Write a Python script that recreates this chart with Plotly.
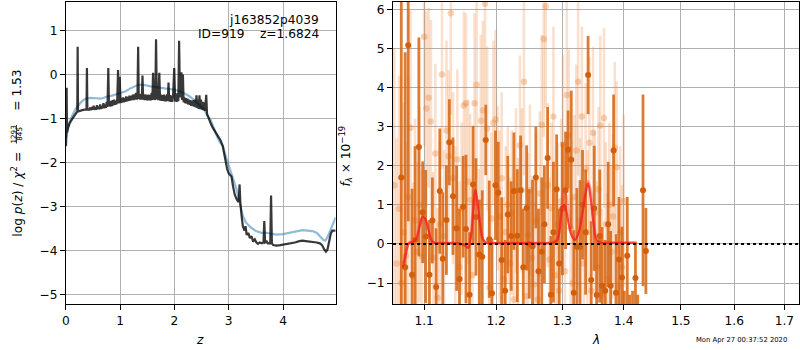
import plotly.graph_objects as go
import numpy as np

# ---- redshift fit: log p(z) ----
z_fit = [0.000, 0.006, 0.012, 0.018, 0.040, 0.070, 0.110, 0.150, 0.190, 0.208, 0.215, 0.222, 0.260, 0.300,
         0.340, 0.378, 0.386, 0.394, 0.430, 0.450, 0.462, 0.480, 0.495, 0.510, 0.522, 0.540, 0.555, 0.570,
         0.585, 0.600, 0.615, 0.630, 0.645, 0.660, 0.675, 0.690, 0.705, 0.720, 0.735, 0.750, 0.765, 0.780,
         0.792, 0.805, 0.818, 0.832, 0.846, 0.860, 0.874, 0.888, 0.902, 0.916, 0.930, 0.945, 0.960, 0.972,
         0.990, 1.005, 1.020, 1.035, 1.050, 1.065, 1.080, 1.095, 1.110, 1.125, 1.140, 1.155, 1.170, 1.185,
         1.200, 1.215, 1.230, 1.245, 1.260, 1.275, 1.290, 1.305, 1.318, 1.330, 1.342, 1.356, 1.370, 1.385,
         1.398, 1.410, 1.422, 1.436, 1.450, 1.464, 1.478, 1.492, 1.506, 1.520, 1.534, 1.548, 1.562, 1.578,
         1.592, 1.605, 1.618, 1.632, 1.646, 1.660, 1.674, 1.688, 1.702, 1.720, 1.734, 1.750, 1.764, 1.778,
         1.792, 1.806, 1.820, 1.834, 1.848, 1.862, 1.876, 1.890, 1.904, 1.918, 1.932, 1.946, 1.960, 1.975,
         1.995, 2.012, 2.026, 2.040, 2.055, 2.070, 2.085, 2.100, 2.115, 2.128, 2.140, 2.155, 2.168, 2.182,
         2.196, 2.210, 2.224, 2.238, 2.252, 2.266, 2.280, 2.294, 2.308, 2.322, 2.336, 2.350, 2.364, 2.378,
         2.392, 2.405, 2.418, 2.432, 2.446, 2.460, 2.474, 2.488, 2.502, 2.516, 2.530, 2.545, 2.560, 2.585,
         2.600, 2.640, 2.680, 2.710, 2.750, 2.800, 2.850, 2.890, 2.930, 2.970, 3.000, 3.050, 3.080, 3.110,
         3.150, 3.180, 3.200, 3.215, 3.240, 3.260, 3.290, 3.310, 3.330, 3.360, 3.390, 3.420, 3.450, 3.480,
         3.510, 3.540, 3.570, 3.610, 3.640, 3.655, 3.670, 3.700, 3.720, 3.765, 3.780, 3.795, 3.820, 3.880,
         3.950, 4.000, 4.080, 4.150, 4.220, 4.300, 4.360, 4.420, 4.500, 4.560, 4.620, 4.680, 4.720, 4.760,
         4.790, 4.820, 4.850, 4.880, 4.910, 4.940, 4.970]
logp_fit = [-1.63, -1.40, -0.30, -1.32, -1.20, -1.10, -1.02, -0.93, -0.87, -0.85, 0.63, -0.84, -0.82, -0.81,
            -0.80, -0.80, 0.15, -0.80, -0.80, -0.75, -0.81, -0.74, -0.80, -0.71, -0.80, -0.75, -0.80, -0.70,
            -0.79, -0.73, -0.79, -0.68, -0.78, -0.72, -0.77, -0.65, -0.77, -0.68, -0.76, -0.62, -0.74, 0.15,
            -0.72, -0.62, -0.73, -0.60, -0.72, -0.58, -0.70, -0.57, -0.69, -0.60, -0.68, -0.55, 0.10, -0.66,
            -0.05, -0.65, -0.54, -0.64, -0.52, -0.63, -0.53, -0.62, -0.50, -0.61, -0.51, -0.60, -0.48, -0.59,
            -0.49, -0.58, -0.46, -0.58, -0.45, -0.57, -0.42, -0.57, -0.44, 0.63, -0.56, -0.45, -0.57, -0.44,
            -0.57, -0.02, -0.57, -0.46, -0.58, -0.45, -0.58, -0.47, -0.59, -0.46, -0.58, -0.47, -0.59, -0.42,
            -0.58, 0.04, -0.57, -0.45, -0.58, 0.80, -0.56, -0.42, -0.58, 0.04, -0.59, -0.46, -0.60, -0.47,
            -0.60, -0.46, -0.61, -0.48, -0.61, -0.45, -0.60, -0.18, -0.61, -0.47, -0.62, -0.48, -0.62, -0.45,
            0.15, -0.61, -0.45, -0.62, -0.42, -0.61, 0.77, -0.52, -0.38, 0.05, -0.58, 0.00, -0.63, -0.52,
            -0.65, -0.54, -0.66, -0.55, -0.68, -0.57, -0.69, -0.58, -0.71, -0.60, -0.72, -0.58, -0.73, -0.57,
            -0.75, -0.47, -0.76, -0.57, -0.78, -0.47, -0.79, -0.57, -0.80, -0.62, -0.81, -0.63, -0.83, -0.46,
            -0.90, -1.05, -1.15, -1.22, -1.30, -1.38, -1.50, -1.63, -1.90, -2.15, -2.25, -2.32, -2.55, -2.73,
            -2.85, -2.90, -2.50, -2.95, -3.25, -3.45, -3.55, -3.45, -3.65, -3.60, -3.72, -3.68, -3.80, -3.75,
            -3.82, -3.85, -3.82, -3.84, -3.82, -3.33, -3.82, -3.80, -3.84, -3.84, -2.75, -3.84, -3.88, -3.89,
            -3.88, -3.87, -3.85, -3.83, -3.82, -3.79, -3.78, -3.79, -3.80, -3.80, -3.82, -3.84, -3.88, -3.98,
            -4.03, -3.98, -3.80, -3.62, -3.55, -3.55, -3.55]

z_prior = [0.00, 0.02, 0.06, 0.11, 0.17, 0.23, 0.30, 0.36, 0.45, 0.55, 0.64, 0.70, 0.76, 0.85, 0.94, 1.02,
           1.10, 1.18, 1.26, 1.32, 1.38, 1.46, 1.56, 1.65, 1.74, 1.85, 1.99, 2.10, 2.20, 2.28, 2.38, 2.47,
           2.55, 2.60, 2.66, 2.72, 2.78, 2.84, 2.89, 2.95, 3.02, 3.08, 3.14, 3.20, 3.26, 3.32, 3.40, 3.50,
           3.60, 3.69, 3.78, 3.87, 4.00, 4.12, 4.25, 4.36, 4.45, 4.54, 4.62, 4.68, 4.74, 4.78, 4.82, 4.86,
           4.90, 4.94, 4.97]
logp_prior = [-1.45, -1.32, -1.10, -0.95, -0.80, -0.70, -0.60, -0.55, -0.53, -0.54, -0.55, -0.53, -0.50,
              -0.48, -0.45, -0.42, -0.38, -0.32, -0.27, -0.24, -0.23, -0.24, -0.27, -0.29, -0.30, -0.32,
              -0.34, -0.38, -0.44, -0.50, -0.60, -0.70, -0.80, -0.92, -1.02, -1.20, -1.40, -1.55, -1.62,
              -1.88, -2.16, -2.40, -2.60, -2.90, -3.22, -3.37, -3.47, -3.56, -3.60, -3.60, -3.62, -3.64,
              -3.63, -3.60, -3.56, -3.54, -3.55, -3.56, -3.60, -3.68, -3.76, -3.78, -3.70, -3.58, -3.45,
              -3.32, -3.25]

# ---- 1D spectrum, binned (dark) ----
wave_bin = [1.070, 1.075, 1.079, 1.084, 1.088, 1.093, 1.098, 1.102, 1.107, 1.111, 1.116, 1.121, 1.125, 1.130,
            1.134, 1.139, 1.144, 1.148, 1.153, 1.157, 1.162, 1.167, 1.171, 1.176, 1.180, 1.185, 1.190, 1.194,
            1.199, 1.203, 1.208, 1.213, 1.217, 1.222, 1.226, 1.231, 1.236, 1.240, 1.245, 1.249, 1.254, 1.259,
            1.263, 1.268, 1.272, 1.277, 1.282, 1.286, 1.291, 1.295, 1.300, 1.305, 1.309, 1.314, 1.318, 1.323,
            1.328, 1.332, 1.337, 1.341, 1.346, 1.351, 1.355, 1.360, 1.364, 1.369, 1.374, 1.378, 1.383, 1.387,
            1.392, 1.397, 1.401, 1.406, 1.410, 1.415, 1.420, 1.424, 1.429, 1.433, 1.438]
flux_bin = [1.70, -0.60, 5.08, -0.79, 0.10, 2.48, 0.81, 0.19, -0.79, 0.60, -1.10, 1.35, -0.38, 0.61,
            2.60, 1.22, 0.40, -0.90, 0.95, 0.38, -1.30, 1.52, 0.69, -0.27, -0.33, 2.66, 0.12, -1.26,
            1.50, 1.31, -0.41, -1.20, 0.75, 0.20, 1.35, 0.21, 1.37, -0.60, 0.92, 0.00, -0.06, 1.70,
            -0.70, -0.20, 0.50, 2.20, -1.30, 0.30, 1.40, -0.50, 0.90, 1.37, 2.41, 2.15, -1.25, -0.07,
            -0.07, 1.00, 0.30, 4.32, -0.92, 0.91, -1.31, 0.20, -1.07, -1.20, 0.50, -1.07, 2.39, -1.25,
            -0.40, -0.86, -2.20, -0.30, -2.40, -2.00, -0.87, -2.60, -3.00, 1.37, -0.18]
err_bin = [6.0, 5.5, 4.5, 2.2, 2.4, 2.8, 1.3, 1.7, 1.4, 1.1, 1.5, 1.6, 1.7, 1.4,
           1.1, 1.5, 1.6, 1.8, 1.3, 1.9, 1.6, 1.5, 1.5, 1.4, 1.7, 0.9, 1.5, 1.4,
           1.4, 1.3, 1.6, 1.3, 1.5, 1.4, 1.5, 1.7, 1.4, 1.5, 1.6, 1.4, 1.7, 1.3,
           1.6, 1.9, 1.5, 1.3, 1.5, 1.8, 1.4, 1.4, 1.7, 1.5, 1.0, 1.77, 1.6, 1.5,
           1.7, 1.4, 1.6, 1.0, 1.5, 1.6, 1.4, 1.7, 1.5, 1.3, 1.6, 1.4, 1.43, 1.5,
           1.6, 1.3, 1.0, 1.5, 1.1, 0.8, 0.9, 1.3, 1.2, 2.45, 1.1]

# ---- 1D spectrum, individual beams (light) ----
wave_beam = [1.061, 1.064, 1.067, 1.070, 1.073, 1.076, 1.079, 1.082, 1.085, 1.088, 1.091, 1.094, 1.097, 1.100,
             1.103, 1.106, 1.109, 1.112, 1.115, 1.118, 1.121, 1.124, 1.127, 1.130, 1.133, 1.136, 1.139, 1.142,
             1.145, 1.148, 1.151, 1.154, 1.157, 1.160, 1.163, 1.166, 1.169, 1.172, 1.175, 1.178, 1.181, 1.184,
             1.187, 1.190, 1.193, 1.196, 1.199, 1.202, 1.205, 1.208, 1.211, 1.214, 1.217, 1.220, 1.223, 1.226,
             1.229, 1.232, 1.235, 1.238, 1.241, 1.244, 1.247, 1.250, 1.253, 1.256, 1.259, 1.262, 1.265, 1.268,
             1.271, 1.274, 1.277, 1.280, 1.283, 1.286, 1.289, 1.292, 1.295, 1.298, 1.301, 1.304, 1.307, 1.310,
             1.313, 1.316, 1.319, 1.322, 1.325, 1.328, 1.331, 1.334, 1.337, 1.340, 1.343, 1.346, 1.349, 1.352,
             1.355, 1.358, 1.361, 1.364, 1.367, 1.370, 1.373, 1.376, 1.379, 1.382, 1.385, 1.388, 1.391, 1.394,
             1.397, 1.400]
flux_beam = [1.50, -0.50, 0.90, -1.00, 0.30, -0.30, 1.20, 2.97, -0.83, 0.60, -0.20, 1.00, -0.32, 5.30,
             3.46, 3.74, 3.13, -0.36, 2.31, -1.38, 0.50, 4.33, 0.20, 2.90, 2.24, 5.90, 1.68, 0.40,
             2.16, -0.60, 0.90, 3.54, 3.60, 1.59, 1.12, -0.80, 3.60, 4.07, -0.28, 3.15, 3.41, 6.14,
             2.95, -1.12, 0.65, 3.10, 3.18, 1.42, 0.70, 1.68, -0.90, 0.30, 1.00, -0.50, 0.80, -1.42,
             1.37, 0.10, 2.52, 1.37, 4.15, -1.34, 0.23, 1.37, -0.36, -1.04, 0.60, -1.42, 1.29, 3.05,
             5.24, 6.08, 1.50, -0.40, 0.91, 3.26, -0.80, 0.50, -1.20, 1.10, 2.54, -0.70, 3.81, 2.77,
             0.40, -1.00, 1.20, 2.39, 4.15, 0.60, 3.26, -0.50, 1.91, 0.30, 2.59, -1.20, 2.84, 0.80,
             -0.60, 1.40, 3.03, -1.30, 3.22, 0.50, -0.90, 1.00, -0.20, 0.70, 2.46, 1.96, -1.10, 0.30,
             -0.60, 1.10]
err_beam = [3.5, 3.2, 3.4, 3.0, 3.3, 2.9, 3.1, 3.0, 2.4, 2.6, 2.3, 2.5, 2.2, 2.8,
            2.5, 2.3, 2.6, 2.2, 2.3, 2.3, 2.1, 2.4, 2.2, 2.3, 2.2, 2.6, 2.2, 2.1,
            2.3, 2.2, 2.2, 2.4, 2.3, 2.1, 2.2, 2.2, 2.3, 2.4, 2.2, 2.2, 2.3, 2.6,
            2.1, 2.1, 2.2, 2.1, 2.3, 2.1, 2.2, 2.2, 2.1, 2.2, 2.0, 2.2, 2.1, 2.2,
            2.1, 2.1, 2.3, 2.1, 2.4, 2.2, 2.1, 2.2, 2.1, 2.1, 2.2, 2.2, 2.1, 2.3,
            2.5, 2.6, 2.1, 2.1, 2.2, 2.3, 2.2, 2.1, 2.2, 2.1, 2.3, 2.2, 2.4, 2.2,
            2.1, 2.2, 2.1, 2.2, 2.4, 2.1, 2.3, 2.1, 2.2, 2.1, 2.2, 2.2, 2.2, 2.1,
            2.2, 2.1, 2.3, 2.2, 2.3, 2.1, 2.2, 2.1, 2.2, 2.1, 2.2, 2.2, 2.1, 2.2,
            2.1, 2.2]

# ---- best-fit line model ----
wave_model = [1.072, 1.076, 1.080, 1.085, 1.090, 1.094, 1.098, 1.102, 1.106, 1.110, 1.115, 1.120, 1.130,
              1.140, 1.150, 1.156, 1.160, 1.164, 1.167, 1.170, 1.173, 1.177, 1.181, 1.186, 1.195, 1.210,
              1.230, 1.250, 1.270, 1.285, 1.292, 1.296, 1.300, 1.303, 1.306, 1.310, 1.315, 1.320, 1.326,
              1.332, 1.337, 1.341, 1.345, 1.350, 1.355, 1.362, 1.380, 1.400, 1.422]
flux_model = [-0.60, -0.25, 0.02, 0.05, 0.15, 0.45, 0.70, 0.62, 0.35, 0.08, 0.02, 0.02, 0.02,
              0.02, 0.00, -0.05, -0.10, 0.20, 0.80, 1.40, 1.10, 0.50, 0.12, 0.03, 0.02, 0.02,
              0.02, 0.02, 0.02, 0.03, 0.10, 0.40, 0.95, 1.00, 0.85, 0.50, 0.20, 0.10, 0.30,
              0.80, 1.30, 1.55, 1.20, 0.50, 0.10, 0.03, 0.03, 0.03, 0.03]
flux_model_beam = [-0.50, -0.20, 0.03, 0.06, 0.18, 0.50, 0.66, 0.55, 0.30, 0.07, 0.02, 0.02, 0.02,
                   0.02, 0.00, -0.04, -0.08, 0.25, 0.90, 1.30, 1.00, 0.45, 0.10, 0.03, 0.02, 0.02,
                   0.02, 0.02, 0.02, 0.03, 0.15, 0.55, 1.10, 1.40, 1.20, 0.70, 0.25, 0.12, 0.35,
                   0.90, 1.40, 1.60, 1.35, 0.60, 0.15, 0.04, 0.03, 0.03, 0.03]

title_id = "j163852p4039"
title_fit = "ID=919\u00a0\u00a0\u00a0\u00a0z=1.6824"
timestamp = "Mon Apr 27 00:37:52 2020"

W, H = 800, 350
FONT = "DejaVu Sans"
FS = 12.2


def px(x):
    return x / W


def py(y):
    return 1 - y / H


fig = go.Figure()

# left panel curves
fig.add_trace(go.Scatter(x=z_prior, y=logp_prior, mode="lines",
                         line=dict(color="rgba(31,119,180,0.5)", width=2.2),
                         xaxis="x", yaxis="y", showlegend=False))
fig.add_trace(go.Scatter(x=z_fit, y=logp_fit, mode="lines",
                         line=dict(color="rgba(0,0,0,0.78)", width=2.2),
                         xaxis="x", yaxis="y", showlegend=False))

# right panel spectra
fig.add_trace(go.Scatter(x=wave_beam, y=flux_beam, mode="markers",
                         marker=dict(color="rgba(230,128,50,0.33)", size=6.5),
                         error_y=dict(type="data", array=err_beam, thickness=2.6, width=0,
                                      color="rgba(235,135,60,0.26)"),
                         xaxis="x2", yaxis="y2", showlegend=False))
fig.add_trace(go.Scatter(x=wave_bin, y=flux_bin, mode="markers",
                         marker=dict(color="#d35f0b", size=6),
                         error_y=dict(type="data", array=err_bin, thickness=2.8, width=0,
                                      color="rgba(214,100,15,0.85)"),
                         xaxis="x2", yaxis="y2", showlegend=False))
fig.add_trace(go.Scatter(x=wave_model, y=flux_model_beam, mode="lines",
                         line=dict(color="rgba(255,60,60,0.35)", width=3, shape="spline"),
                         xaxis="x2", yaxis="y2", showlegend=False))
fig.add_trace(go.Scatter(x=wave_model, y=flux_model, mode="lines",
                         line=dict(color="rgba(240,30,30,0.75)", width=2.2, shape="spline"),
                         xaxis="x2", yaxis="y2", showlegend=False))

axis_common = dict(showgrid=True, gridcolor="#b0b0b0", gridwidth=1, zeroline=False,
                   showline=True, mirror=True, linecolor="black", linewidth=1,
                   ticks="outside", ticklen=5, tickwidth=1, tickcolor="black",
                   tickfont=dict(family=FONT, size=FS, color="black"))

ydom = [py(304), py(2)]
fig.update_layout(
    width=W, height=H, margin=dict(l=0, r=0, t=0, b=0),
    paper_bgcolor="white", plot_bgcolor="white",
    xaxis=dict(domain=[px(62.3), px(333.3)], range=[0, 4.97], tickvals=[0, 1, 2, 3, 4],
               anchor="y", **axis_common),
    yaxis=dict(domain=ydom, range=[-5.22, 1.65], tickvals=[-5, -4, -3, -2, -1, 0, 1],
               anchor="x", **axis_common),
    xaxis2=dict(domain=[px(391), px(799)], type="log",
                range=[np.log10(1.0594), np.log10(1.7303)],
                tickvals=[1.1, 1.2, 1.3, 1.4, 1.5, 1.6, 1.7],
                ticktext=["1.1", "1.2", "1.3", "1.4", "1.5", "1.6", "1.7"],
                anchor="y2", **axis_common),
    yaxis2=dict(domain=ydom, range=[-1.537, 6.187], tickvals=[-1, 0, 1, 2, 3, 4, 5, 6],
                anchor="x2", **axis_common),
)

# zero level in the spectrum panel
fig.add_shape(type="line", xref="x2 domain", yref="y2", x0=0, x1=1, y0=0, y1=0,
              line=dict(color="black", width=2, dash="dot"), layer="above")

ann = []
font = dict(family=FONT, size=FS, color="black")
ann.append(dict(text=title_id, x=px(318.5), y=py(20), xanchor="right", yanchor="middle", font=font))
ann.append(dict(text=title_fit, x=px(318.5), y=py(33.5), xanchor="right", yanchor="middle", font=font))
ann.append(dict(text="<i>z</i>", x=px(197), y=py(340), xanchor="center", yanchor="middle", font=font))
ann.append(dict(text="<i>λ</i>", x=px(594.5), y=py(340), xanchor="center", yanchor="middle", font=font))
ann.append(dict(text=timestamp, x=px(741.5), y=py(339.5), xanchor="center", yanchor="middle",
                font=dict(family=FONT, size=6.8, color="black")))
# left y label, pieced together around a stacked fraction
ann.append(dict(text="log <i>p</i>(<i>z</i>) / <i>χ</i><sup>2</sup> =", x=px(12.7), y=py(194),
                textangle=-90, xanchor="center", yanchor="middle", font=font))
ann.append(dict(text="1293", x=px(9.4), y=py(134.2), textangle=-90, xanchor="center",
                yanchor="middle", font=dict(family=FONT, size=7.2, color="black")))
ann.append(dict(text="845", x=px(15.6), y=py(134.2), textangle=-90, xanchor="center",
                yanchor="middle", font=dict(family=FONT, size=7.2, color="black")))
ann.append(dict(text="= 1.53", x=px(12.7), y=py(90), textangle=-90, xanchor="center",
                yanchor="middle", font=font))
# right y label
ann.append(dict(text="<i>f<sub>λ</sub></i> × 10<sup>−19</sup>", x=px(343.3), y=py(156),
                textangle=-90, xanchor="center", yanchor="middle", font=font))
for a in ann:
    a.update(xref="paper", yref="paper", showarrow=False)
fig.update_layout(annotations=ann)

# fraction bar
fig.add_shape(type="line", xref="paper", yref="paper", x0=px(12.5), x1=px(12.5),
              y0=py(125), y1=py(143.5), line=dict(color="black", width=0.8))

fig.write_html("out.html")
